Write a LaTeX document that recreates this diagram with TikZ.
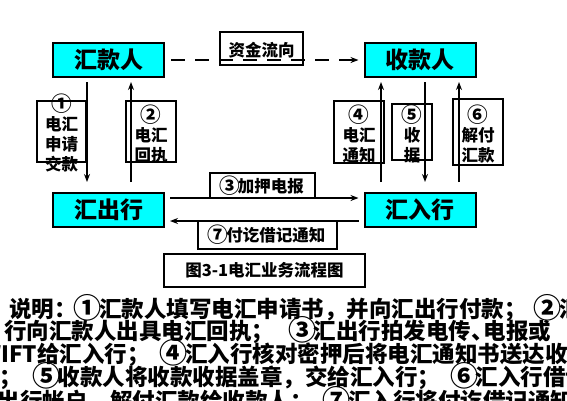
\documentclass[tikz,border=0pt]{standalone}
\usepackage{fontspec}
\setmainfont{Noto Sans CJK SC}
\usetikzlibrary{arrows.meta}
\definecolor{boxcyan}{RGB}{0,255,255}
\newcommand\cnum[1]{\makebox[1em]{\raisebox{-0.07em}{\scalebox{1.25}{#1}}}}
\begin{document}
\begin{tikzpicture}[x=1pt,y=-1pt,
  party/.style={draw, line width=2pt, fill=boxcyan, minimum width=111pt, minimum height=34pt, inner sep=0pt, font=\bfseries\fontsize{23}{23}\selectfont},
  lbox/.style={draw, line width=1.3pt, inner sep=0pt},
  lbl/.style={font=\bfseries\fontsize{16.5}{20}\selectfont, align=center, inner sep=0pt},
  arr/.style={line width=1.3pt, -{Stealth[length=8pt,width=6pt]}},
  para/.style={anchor=base west, inner sep=0pt, font=\bfseries\fontsize{22.5}{22.5}\selectfont}
]
\useasboundingbox (0,0) rectangle (567,400);
\clip (0,0) rectangle (567,400);
\fill[white] (0,0) rectangle (567,400);

% main parties
\node[party] (A) at (108.5,60) {汇款人};
\node[party] (B) at (420,60) {收款人};
\node[party] (C) at (108.5,210) {汇出行};
\node[party] (D) at (420,210) {汇入行};

% label boxes
\node[lbox, minimum width=49pt, minimum height=61pt] (b1) at (61.5,131.5) {};
\node[lbox, minimum width=50pt, minimum height=61pt] (b2) at (151,131.5) {};
\node[lbox, minimum width=50pt, minimum height=62pt] (b4) at (359,132) {};
\node[lbox, minimum width=40pt, minimum height=56pt] (b5) at (412,132) {};
\node[lbox, minimum width=50pt, minimum height=66pt] (b6) at (478,132) {};
\node[lbox, minimum width=83pt, minimum height=33pt] (bf) at (261.5,48.5) {};
\node[lbox, minimum width=105pt, minimum height=25pt, lbl] (b3) at (262.5,185.5) {\cnum{③}加押电报};
\node[lbox, minimum width=139pt, minimum height=28pt, lbl] (b7) at (267.5,235) {\cnum{⑦}付讫借记通知};
\node[lbox, line width=2pt, minimum width=201pt, minimum height=33pt, lbl] (cap) at (264.5,270.5) {图3-1电汇业务流程图};

% label texts
\node[lbl] (t1) at (61.5,133) {\cnum{①}\\电汇\\申请\\交款};
\node[lbl] (t2) at (151,134) {\cnum{②}\\电汇\\回执};
\node[lbl] (t4) at (359,134) {\cnum{④}\\电汇\\通知};
\node[lbl] (t5) at (412,134) {\cnum{⑤}\\收\\据};
\node[lbl] (t6) at (478,134) {\cnum{⑥}\\解付\\汇款};
\node[lbl] (tf) at (261.5,50) {资金流向};

% arrow x positions
\coordinate (x1) at (87,0);
\coordinate (x2) at (131,0);
\coordinate (x4) at (381,0);
\coordinate (x5) at (425,0);
\coordinate (x6) at (459,0);
\coordinate (y3) at (0,198);
\coordinate (y7) at (0,221);

\draw[arr, shorten <=4pt, shorten >=10pt] (A.south -| x1) -- (C.north -| x1);
\draw[arr, shorten <=10pt, shorten >=4pt] (C.north -| x2) -- (A.south -| x2);
\draw[arr, shorten <=10pt, shorten >=4pt] (D.north -| x4) -- (B.south -| x4);
\draw[arr, shorten <=4pt, shorten >=10pt] (B.south -| x5) -- (D.north -| x5);
\draw[arr, shorten <=10pt, shorten >=4pt] (D.north -| x6) -- (B.south -| x6);

\draw[arr, shorten <=5pt, shorten >=5pt] (C.east |- y3) -- (D.west |- y3);
\draw[arr, shorten <=5pt, shorten >=5pt] (D.west |- y7) -- (C.east |- y7);

\draw[arr, dash pattern=on 14pt off 10pt, shorten <=6pt, shorten >=5pt] (A.east) -- (B.west);

% explanation text
\node[para] (p1) at (9,317) {说明：\cnum{①}汇款人填写电汇申请书，并向汇出行付款；\hspace{10pt}\cnum{②}汇出};
\node[para] (p2) at (4,339) {行向汇款人出具电汇回执；\hspace{17pt}\cnum{③}汇出行拍发电传\makebox[0.55em][l]{、}电报或};
\node[para] (p3) at (37,362) {\llap{SWIFT}给汇入行；\hspace{13pt}\cnum{④}汇入行核对密押后将电汇通知书送达收款人};
\node[para] (p4) at (35,385) {\llap{人；\hspace{13pt}}\cnum{⑤}收款人将收款收据盖章，交给汇入行；\hspace{13pt}\cnum{⑥}汇入行借记};
\node[para] (p5) at (-25,409) {汇出行帐户，解付汇款给收款人；\hspace{13pt}\cnum{⑦}汇入行将付讫借记通知书寄汇出行。};
\end{tikzpicture}
\end{document}
